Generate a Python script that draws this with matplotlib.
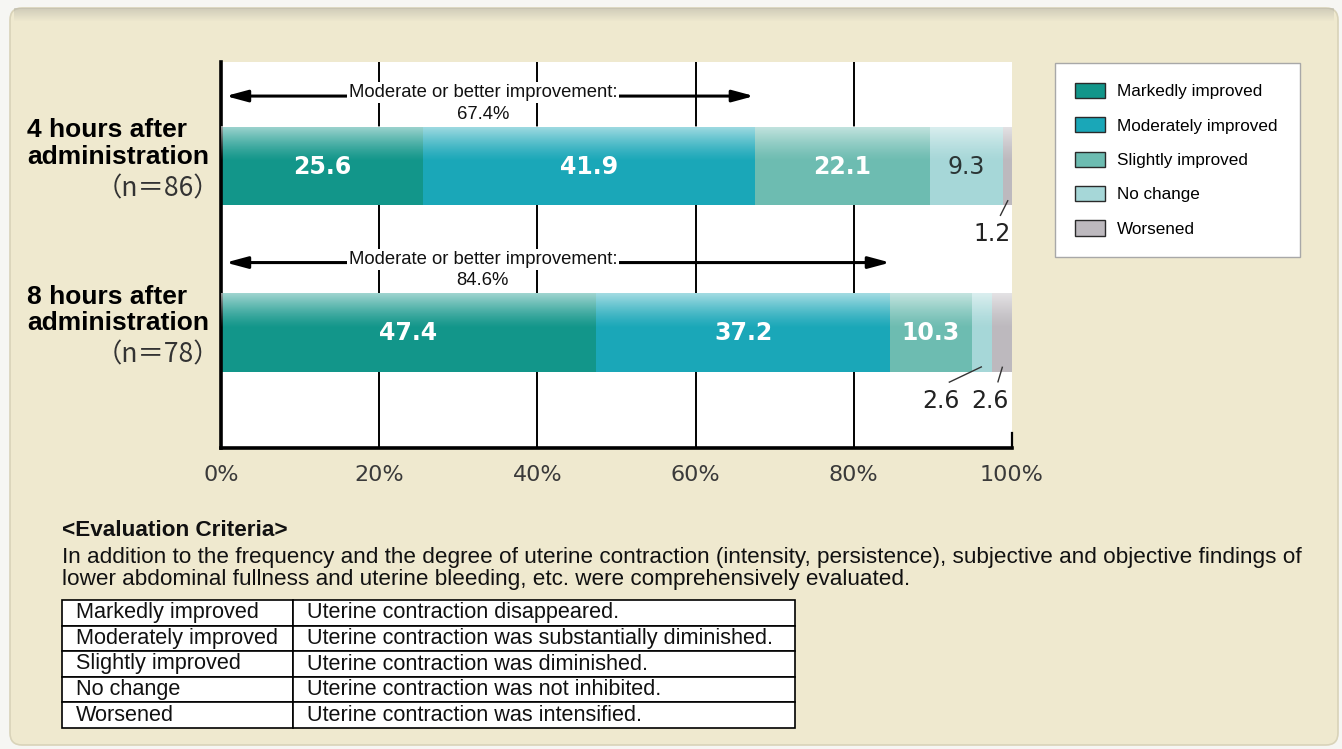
import matplotlib
matplotlib.use("Agg")
import matplotlib.pyplot as plt
from matplotlib.patches import Patch, FancyBboxPatch
from matplotlib.transforms import IdentityTransform
import numpy as np

# ---------------- data ----------------
groups = ["4 hours after", "8 hours after"]
group_sub = ["administration", "administration"]
n_labels = ["（n＝86）", "（n＝78）"]
categories = ["Markedly improved", "Moderately improved", "Slightly improved",
              "No change", "Worsened"]
vals_4h = [25.6, 41.9, 22.1, 9.3, 1.2]
vals_8h = [47.4, 37.2, 10.3, 2.6, 2.6]
moderate_or_better = [67.4, 84.6]
xticks = [0, 20, 40, 60, 80, 100]
xtick_labels = ["0%", "20%", "40%", "60%", "80%", "100%"]
criteria = ["Uterine contraction disappeared.",
            "Uterine contraction was substantially diminished.",
            "Uterine contraction was diminished.",
            "Uterine contraction was not inhibited.",
            "Uterine contraction was intensified."]
header = "<Evaluation Criteria>"
para = ["In addition to the frequency and the degree of uterine contraction (intensity, persistence), subjective and objective findings of",
        "lower abdominal fullness and uterine bleeding, etc. were comprehensively evaluated."]

# ---------------- style ----------------
colors = ["#12968a", "#1aa7b8", "#6dbcb1", "#a6d7d8", "#bdb9be"]
label_colors = ["white", "white", "white", "#2b3535", "#2b3535"]
W, H = 1342, 749
SANS = "Liberation Sans"

fig = plt.figure(figsize=(W / 100, H / 100), dpi=100)
fig.patch.set_facecolor("#f6f6f3")

def fx(x):
    return x / W

def fy(y):
    return 1 - y / H

# background panel
panel = FancyBboxPatch((10, 4), 1328, 737, boxstyle="round,pad=0,rounding_size=12",
                       transform=IdentityTransform(), facecolor="#efe9cf",
                       edgecolor="#d9d3b9", linewidth=1.2, zorder=-10)
fig.patches.append(panel)
shade = np.zeros((14, 1, 4))
shade[..., 0] = 0.72; shade[..., 1] = 0.71; shade[..., 2] = 0.66
shade[:, 0, 3] = np.linspace(0.55, 0.0, 14)
ax_sh = fig.add_axes([fx(14), fy(22), fx(1320), 14 / H], zorder=-5)
ax_sh.imshow(shade, aspect="auto", interpolation="bilinear")
ax_sh.axis("off")

# ---------------- main axes ----------------
ax = fig.add_axes([fx(221), fy(448), fx(1012 - 221), (448 - 62) / H])
ax.set_facecolor("white")
ypos = np.array([0.0, 1.0])
bar_h = 0.47
YLIM = (1.6937, -0.6246)

data = np.array([vals_4h, vals_8h])
lefts = np.zeros(2)
for j, cat in enumerate(categories):
    ax.barh(ypos, data[:, j], left=lefts, height=bar_h, color=colors[j],
            edgecolor="none", zorder=2, label=cat)
    for i in range(2):
        v = data[i, j]
        if v >= 5:
            ax.text(lefts[i] + v / 2, ypos[i] + 0.005, f"{v:.1f}", ha="center", va="center",
                    color=label_colors[j], fontsize=17,
                    fontweight="bold" if label_colors[j] == "white" else "normal",
                    family="DejaVu Sans", zorder=5)
    lefts = lefts + data[:, j]

# gloss gradient on bars
grad = np.ones((100, 1, 4))
t = np.linspace(0, 1, 100)
grad[:, 0, 3] = np.clip(1 - t / 0.45, 0, 1) ** 1.3 * 0.6
for i in range(2):
    ax.imshow(grad, extent=(0, 100, ypos[i] + bar_h / 2, ypos[i] - bar_h / 2),
              aspect="auto", interpolation="bilinear", zorder=3)
ax.set_xlim(0, 100)
ax.set_ylim(*YLIM)

# small value labels below bars with leader lines
small_label_x = {(0, 4): 97.5, (1, 3): 91.0, (1, 4): 97.2}
cum = np.cumsum(data, axis=1)
for (i, j), lx in small_label_x.items():
    v = data[i, j]
    seg_c = cum[i, j] - v / 2
    ly = ypos[i] + 0.41
    ax.text(lx, ly, f"{v:.1f}", ha="center", va="center", fontsize=17,
            color="#222222", family="DejaVu Sans", zorder=5)
    ax.plot([lx + 1.0, seg_c], [ypos[i] + 0.30, ypos[i] + 0.205], color="#333333",
            lw=1.0, zorder=6, solid_capstyle="butt")

# grid lines
for xv in xticks[1:-1]:
    ax.axvline(xv, color="black", lw=1.4, zorder=1)
ax.plot([100, 100], [YLIM[0], YLIM[0] - 0.09], color="black", lw=1.6, zorder=1, clip_on=False)

# "moderate or better" arrows
for i in range(2):
    ya = ypos[i] - 0.42
    ax.annotate("", xy=(moderate_or_better[i], ya), xytext=(0.6, ya),
                arrowprops=dict(arrowstyle="<|-|>,head_length=1.3,head_width=0.35",
                                color="black", lw=2.2, shrinkA=0, shrinkB=0), zorder=4)
    ax.text(33.1, ypos[i] - 0.44, "Moderate or better improvement:", ha="center",
            va="center", fontsize=13.3, family=SANS, color="#111111", zorder=5,
            bbox=dict(facecolor="white", edgecolor="none", pad=1.5))
    ax.text(33.1, ypos[i] - 0.31, f"{moderate_or_better[i]}%", ha="center",
            va="center", fontsize=13.3, family=SANS, color="#111111", zorder=5,
            bbox=dict(facecolor="white", edgecolor="none", pad=0.5))

# axes styling
for s in ["top", "right"]:
    ax.spines[s].set_visible(False)
ax.spines["left"].set_linewidth(2.6)
ax.spines["bottom"].set_linewidth(2.6)
ax.set_xticks(xticks)
ax.set_xticklabels(xtick_labels, fontsize=16, family="DejaVu Sans", color="#3a3a3a")
ax.tick_params(axis="x", length=0, pad=12)
ax.set_yticks([])

# group labels
ytr = ax.get_yaxis_transform()
for i in range(2):
    ax.text(-0.2453, ypos[i] - 0.215, groups[i], transform=ytr, ha="left", va="center",
            fontsize=19, fontweight="bold", family=SANS, color="black")
    ax.text(-0.2453, ypos[i] - 0.055, group_sub[i], transform=ytr, ha="left", va="center",
            fontsize=19, fontweight="bold", family=SANS, color="black")
    ax.text(-0.001, ypos[i] + 0.135, n_labels[i], transform=ytr, ha="right", va="center",
            fontsize=19, family=["Noto Sans CJK JP", "DejaVu Sans"], color="#333333")

# legend
handles = [Patch(facecolor=c, edgecolor="#2a2a2a", linewidth=1.0) for c in colors]
leg = fig.legend(handles, categories, loc="upper left",
                 bbox_to_anchor=(fx(1055), fy(255), fx(1300 - 1055), (255 - 63) / H),
                 mode="expand", prop={"family": SANS, "size": 12.3},
                 handlelength=1.75, handleheight=1.0, handletextpad=0.75,
                 labelspacing=1.05, borderpad=1.15, borderaxespad=0,
                 fancybox=False, framealpha=1)
leg.get_frame().set_edgecolor("#a8a8a8")
leg.get_frame().set_linewidth(1.0)

# evaluation criteria text
fig.text(fx(62), fy(530), header, ha="left", va="center", fontsize=16.2,
         fontweight="bold", family=SANS, color="#111111")
for k, line in enumerate(para):
    fig.text(fx(62), fy(557 + 23 * k), line, ha="left", va="center", fontsize=16.2,
             family=SANS, color="#111111")

# table
TL, TR, TD = 62, 795, 293
ax_t = fig.add_axes([fx(TL), fy(728), fx(TR - TL), (728 - 600) / H])
ax_t.axis("off")
c0 = (TD - TL) / (TR - TL)
tbl = ax_t.table(cellText=[[c, d] for c, d in zip(categories, criteria)],
                 colWidths=[c0, 1 - c0], bbox=[0, 0, 1, 1], cellLoc="left")
tbl.auto_set_font_size(False)
tbl.set_fontsize(15.6)
for (r, c), cell in tbl.get_celld().items():
    cell.set_edgecolor("black")
    cell.set_linewidth(1.2)
    cell.set_facecolor("white")
    cell.get_text().set_fontfamily(SANS)
    cell.get_text().set_color("#111111")
    cell.PAD = 14 / ((TR - TL) * (c0 if c == 0 else 1 - c0))

fig.savefig("out.png", dpi=100, facecolor=fig.get_facecolor())
